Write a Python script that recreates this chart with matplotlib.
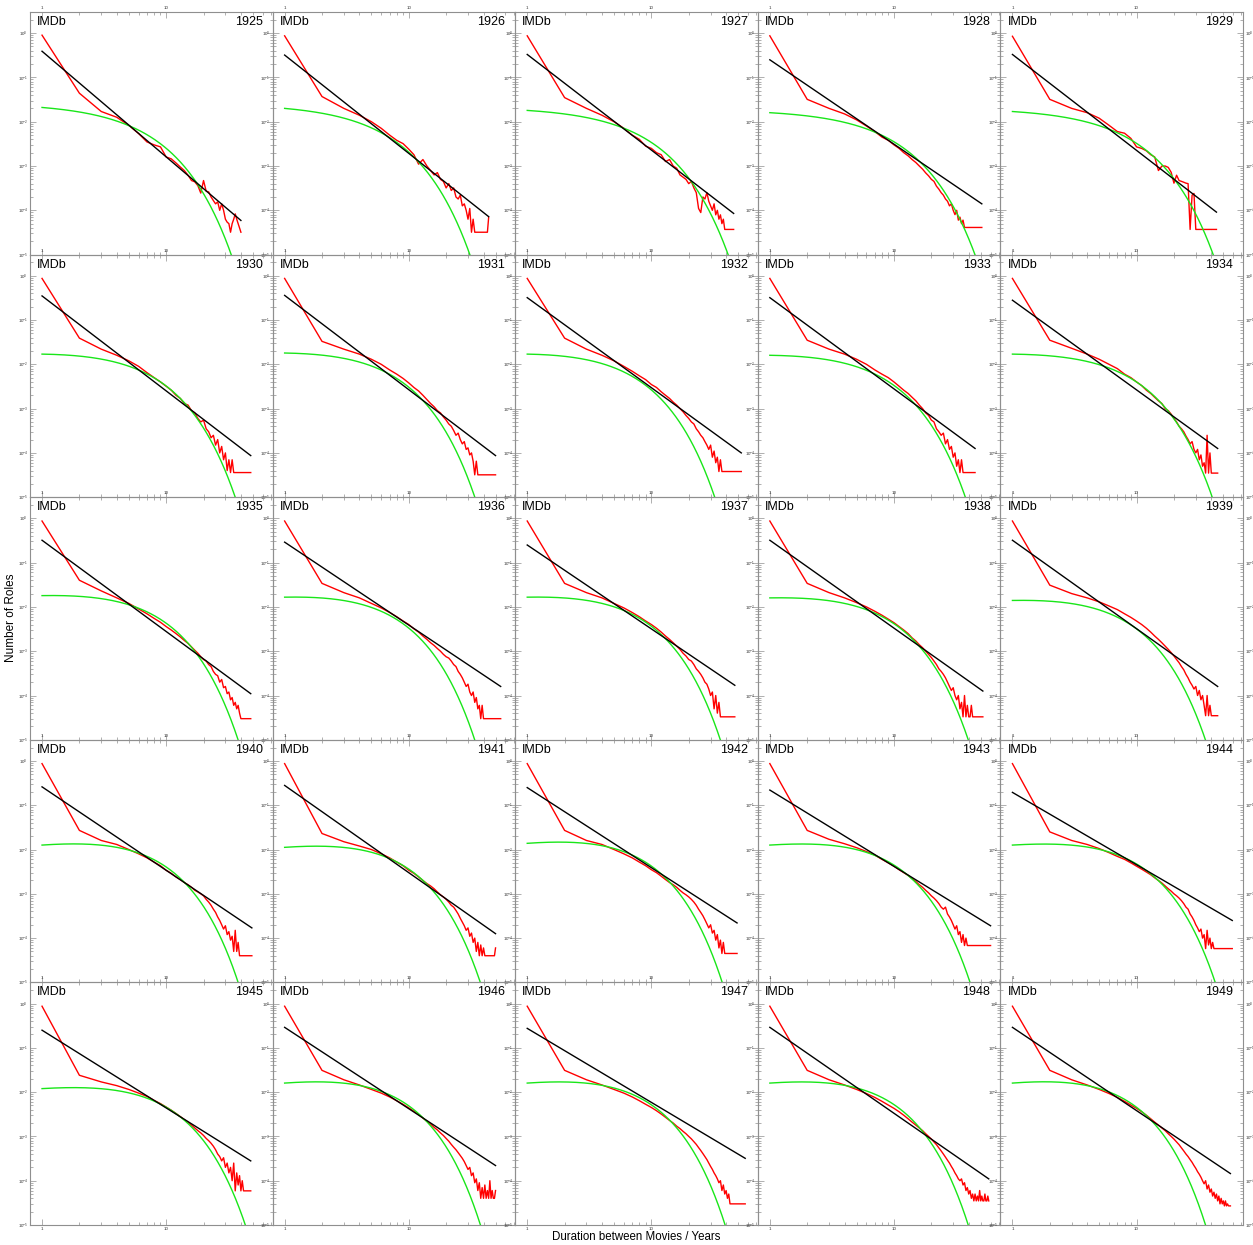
import numpy as np
import matplotlib
matplotlib.use("Agg")
import matplotlib.pyplot as plt
from matplotlib.ticker import FixedLocator, FixedFormatter, NullFormatter

plt.rcParams['font.family'] = ['Liberation Sans', 'DejaVu Sans']
plt.rcParams['mathtext.fontset'] = 'custom'
plt.rcParams['mathtext.rm'] = 'Liberation Sans'

years = list(range(1925, 1950))

# ---- red: measured fraction at durations 1, 2, 3, ... years ----
red_1925 = [0.9, 4.4e-2, 1.7e-2, 1.26e-2, 8.3e-3, 5.4e-3, 3.5e-3, 3.0e-3, 2.7e-3, 1.6e-3, 1.45e-3, 1.17e-3, 9.5e-4, 7.9e-4, 6.2e-4, 4.7e-4, 4.4e-4, 3.6e-4, 2.45e-4, 4.7e-4, 2.7e-4, 2.6e-4, 2.0e-4, 1.66e-4, 1.4e-4, 1.55e-4, 1.0e-4, 1.4e-4, 1.0e-4, 6.3e-5, 5.4e-5, 5.0e-5, 3.2e-5, 5.0e-5, 6.3e-5, 8.3e-5, 6.3e-5, 5.0e-5, 4.0e-5, 3.2e-5]
red_1926 = [0.87, 3.7e-2, 2.0e-2, 1.4e-2, 1.0e-2, 7.1e-3, 5.0e-3, 3.8e-3, 3.2e-3, 2.4e-3, 1.8e-3, 1.1e-3, 1.4e-3, 1.0e-3, 7.9e-4, 6.3e-4, 7.1e-4, 5.0e-4, 4.5e-4, 3.2e-4, 4.0e-4, 2.8e-4, 3.2e-4, 2.0e-4, 1.8e-4, 2.2e-4, 1.26e-4, 1.4e-4, 1.0e-4, 6.3e-5, 1.1e-4, 3.2e-5, 6.3e-5, 3.2e-5, 3.2e-5, 3.2e-5, 3.2e-5, 3.2e-5, 3.2e-5, 3.2e-5, 3.2e-5, 3.2e-5, 3.2e-5, 6.9e-5]
red_1927 = [0.87, 3.5e-2, 2.0e-2, 1.4e-2, 1.0e-2, 7.1e-3, 5.0e-3, 4.0e-3, 2.8e-3, 2.5e-3, 2.0e-3, 1.8e-3, 1.26e-3, 1.4e-3, 1.0e-3, 8.9e-4, 6.3e-4, 5.6e-4, 5.0e-4, 4.0e-4, 4.5e-4, 3.2e-4, 2.5e-4, 1.1e-4, 8.9e-5, 2.0e-4, 1.8e-4, 2.5e-4, 1.6e-4, 1.26e-4, 1.0e-4, 1.4e-4, 7.9e-5, 1.0e-4, 6.3e-5, 7.9e-5, 5.0e-5, 6.3e-5, 3.7e-5, 3.7e-5, 3.7e-5, 3.7e-5, 3.7e-5, 3.7e-5, 3.7e-5, 3.7e-5]
red_1928 = [0.87, 3.2e-2, 2.0e-2, 1.5e-2, 1.1e-2, 8.0e-3, 6.0e-3, 4.5e-3, 3.8e-3, 3.0e-3, 2.5e-3, 2.0e-3, 1.7e-3, 1.4e-3, 1.2e-3, 1.0e-3, 8.5e-4, 7.0e-4, 6.0e-4, 5.0e-4, 4.5e-4, 3.5e-4, 3.0e-4, 2.5e-4, 2.2e-4, 1.8e-4, 1.6e-4, 1.26e-4, 1.4e-4, 1.0e-4, 8.0e-5, 1.0e-4, 6.0e-5, 7.0e-5, 5.0e-5, 6.0e-5, 4.1e-5, 4.1e-5, 4.1e-5, 4.1e-5, 4.1e-5, 4.1e-5, 4.1e-5, 4.1e-5, 4.1e-5, 4.1e-5, 4.1e-5, 4.1e-5, 4.1e-5, 4.1e-5, 4.1e-5]
red_1929 = [0.85, 3.2e-2, 2.0e-2, 1.6e-2, 1.2e-2, 8.3e-3, 6.0e-3, 5.5e-3, 4.2e-3, 2.7e-3, 2.5e-3, 2.2e-3, 1.8e-3, 1.6e-3, 7.9e-4, 1.0e-3, 1.0e-3, 9.3e-4, 7.2e-4, 4.1e-4, 6.2e-4, 4.7e-4, 4.5e-4, 4.3e-4, 4.1e-4, 4.0e-4, 3.7e-5, 2.2e-4, 2.4e-4, 3.7e-5, 3.7e-5, 3.7e-5, 3.7e-5, 3.7e-5, 3.7e-5, 3.7e-5, 3.7e-5, 3.7e-5, 3.7e-5, 3.7e-5, 3.7e-5, 3.7e-5, 3.7e-5, 3.7e-5]
red_1930 = [0.87, 3.9e-2, 2.2e-2, 1.6e-2, 1.2e-2, 9.0e-3, 6.5e-3, 5.0e-3, 4.0e-3, 3.2e-3, 2.6e-3, 2.0e-3, 1.7e-3, 1.3e-3, 1.2e-3, 9.0e-4, 8.0e-4, 6.0e-4, 5.0e-4, 5.5e-4, 3.5e-4, 3.0e-4, 2.2e-4, 2.5e-4, 1.5e-4, 2.0e-4, 1.0e-4, 1.4e-4, 7.0e-5, 1.0e-4, 4.0e-5, 7.0e-5, 3.6e-5, 7.0e-5, 3.6e-5, 3.6e-5, 3.6e-5, 3.6e-5, 3.6e-5, 3.6e-5, 3.6e-5, 3.6e-5, 3.6e-5, 3.6e-5, 3.6e-5, 3.6e-5, 3.6e-5, 3.6e-5]
red_1931 = [0.87, 3.3e-2, 2.2e-2, 1.7e-2, 1.3e-2, 1.0e-2, 7.5e-3, 6.0e-3, 4.8e-3, 3.8e-3, 3.0e-3, 2.5e-3, 2.0e-3, 1.6e-3, 1.3e-3, 1.1e-3, 9.0e-4, 8.0e-4, 6.5e-4, 5.5e-4, 4.5e-4, 4.0e-4, 3.2e-4, 2.5e-4, 2.8e-4, 2.0e-4, 1.6e-4, 1.8e-4, 1.2e-4, 1.3e-4, 9.0e-5, 1.0e-4, 6.5e-5, 3.2e-5, 6.5e-5, 3.2e-5, 3.2e-5, 3.2e-5, 3.2e-5, 3.2e-5, 3.2e-5, 3.2e-5, 3.2e-5, 3.2e-5, 3.2e-5, 3.2e-5, 3.2e-5, 3.2e-5, 3.2e-5, 3.2e-5]
red_1932 = [0.87, 3.9e-2, 2.2e-2, 1.6e-2, 1.2e-2, 9.0e-3, 7.0e-3, 5.5e-3, 4.5e-3, 3.5e-3, 3.0e-3, 2.4e-3, 2.0e-3, 1.7e-3, 1.4e-3, 1.2e-3, 1.0e-3, 8.5e-4, 7.0e-4, 6.0e-4, 5.0e-4, 4.5e-4, 3.5e-4, 3.0e-4, 2.5e-4, 2.2e-4, 1.8e-4, 1.5e-4, 1.2e-4, 1.5e-4, 8.0e-5, 1.1e-4, 6.0e-5, 8.0e-5, 3.8e-5, 7.0e-5, 3.8e-5, 3.8e-5, 3.8e-5, 3.8e-5, 3.8e-5, 3.8e-5, 3.8e-5, 3.8e-5, 3.8e-5, 3.8e-5, 3.8e-5, 3.8e-5, 3.8e-5, 3.8e-5, 3.8e-5, 3.8e-5, 3.8e-5]
red_1933 = [0.87, 3.5e-2, 2.2e-2, 1.7e-2, 1.3e-2, 1.0e-2, 7.5e-3, 6.0e-3, 5.0e-3, 4.0e-3, 3.2e-3, 2.6e-3, 2.2e-3, 1.8e-3, 1.5e-3, 1.2e-3, 1.0e-3, 8.0e-4, 7.0e-4, 5.5e-4, 5.0e-4, 3.5e-4, 3.0e-4, 2.5e-4, 2.8e-4, 1.6e-4, 2.0e-4, 1.2e-4, 1.4e-4, 8.0e-5, 1.0e-4, 5.0e-5, 7.0e-5, 3.6e-5, 7.0e-5, 3.6e-5, 3.6e-5, 3.6e-5, 3.6e-5, 3.6e-5, 3.6e-5, 3.6e-5, 3.6e-5, 3.6e-5, 3.6e-5]
red_1934 = [0.87, 3.5e-2, 2.3e-2, 1.7e-2, 1.3e-2, 1.0e-2, 8.0e-3, 6.0e-3, 5.0e-3, 4.0e-3, 3.3e-3, 2.6e-3, 2.2e-3, 1.8e-3, 1.5e-3, 1.3e-3, 1.0e-3, 9.0e-4, 7.5e-4, 6.0e-4, 5.0e-4, 4.0e-4, 3.5e-4, 3.0e-4, 2.4e-4, 2.0e-4, 1.6e-4, 1.8e-4, 1.2e-4, 1.0e-4, 1.2e-4, 7.0e-5, 9.0e-5, 5.0e-5, 6.0e-5, 3.5e-5, 2.5e-4, 3.5e-5, 1.0e-4, 3.5e-5, 3.5e-5, 3.5e-5, 3.5e-5, 3.5e-5, 3.5e-5]
red_1935 = [0.87, 4.0e-2, 2.3e-2, 1.6e-2, 1.2e-2, 9.0e-3, 7.0e-3, 5.5e-3, 4.5e-3, 3.6e-3, 3.0e-3, 2.5e-3, 2.1e-3, 1.75e-3, 1.5e-3, 1.25e-3, 1.05e-3, 9.0e-4, 7.5e-4, 6.5e-4, 6.0e-4, 5.0e-4, 4.5e-4, 3.5e-4, 3.0e-4, 2.8e-4, 2.0e-4, 2.3e-4, 1.5e-4, 1.6e-4, 1.1e-4, 1.2e-4, 8.0e-5, 9.0e-5, 6.0e-5, 7.0e-5, 5.0e-5, 6.0e-5, 4.0e-5, 3.0e-5, 3.0e-5, 3.0e-5, 3.0e-5, 3.0e-5, 3.0e-5, 3.0e-5, 3.0e-5, 3.0e-5]
red_1936 = [0.87, 3.4e-2, 2.1e-2, 1.6e-2, 1.2e-2, 9.5e-3, 7.5e-3, 6.0e-3, 4.8e-3, 4.0e-3, 3.2e-3, 2.7e-3, 2.2e-3, 1.85e-3, 1.55e-3, 1.35e-3, 1.15e-3, 1.0e-3, 8.5e-4, 7.5e-4, 7.0e-4, 6.0e-4, 5.0e-4, 4.5e-4, 3.5e-4, 3.0e-4, 2.5e-4, 2.0e-4, 1.6e-4, 1.8e-4, 1.2e-4, 1.0e-4, 1.2e-4, 7.0e-5, 9.0e-5, 5.0e-5, 6.0e-5, 3.0e-5, 6.0e-5, 3.0e-5, 3.0e-5, 3.0e-5, 3.0e-5, 3.0e-5, 3.0e-5, 3.0e-5, 3.0e-5, 3.0e-5, 3.0e-5, 3.0e-5, 3.0e-5, 3.0e-5, 3.0e-5, 3.0e-5, 3.0e-5]
red_1937 = [0.87, 3.4e-2, 2.1e-2, 1.6e-2, 1.2e-2, 9.5e-3, 7.5e-3, 6.0e-3, 4.8e-3, 4.0e-3, 3.3e-3, 2.7e-3, 2.2e-3, 1.85e-3, 1.55e-3, 1.3e-3, 1.1e-3, 9.0e-4, 7.8e-4, 6.5e-4, 6.0e-4, 5.0e-4, 4.0e-4, 3.5e-4, 3.0e-4, 2.5e-4, 2.0e-4, 1.8e-4, 1.4e-4, 1.0e-4, 1.2e-4, 5.0e-5, 1.0e-4, 4.0e-5, 7.0e-5, 3.3e-5, 3.3e-5, 3.3e-5, 3.3e-5, 3.3e-5, 3.3e-5, 3.3e-5, 3.3e-5, 3.3e-5, 3.3e-5, 3.3e-5, 3.3e-5]
red_1938 = [0.87, 3.4e-2, 2.1e-2, 1.6e-2, 1.25e-2, 1.0e-2, 8.0e-3, 6.5e-3, 5.3e-3, 4.4e-3, 3.6e-3, 3.0e-3, 2.5e-3, 2.0e-3, 1.7e-3, 1.4e-3, 1.2e-3, 1.0e-3, 8.5e-4, 7.2e-4, 6.0e-4, 5.0e-4, 4.0e-4, 3.5e-4, 3.0e-4, 2.5e-4, 2.0e-4, 1.6e-4, 1.3e-4, 1.5e-4, 1.0e-4, 8.0e-5, 1.0e-4, 5.0e-5, 7.0e-5, 3.3e-5, 1.0e-4, 3.3e-5, 6.0e-5, 3.3e-5, 3.3e-5, 6.0e-5, 3.3e-5, 3.3e-5, 3.3e-5, 3.3e-5, 3.3e-5, 3.3e-5, 3.3e-5, 3.3e-5, 3.3e-5, 3.3e-5]
red_1939 = [0.87, 3.1e-2, 2.0e-2, 1.6e-2, 1.3e-2, 1.05e-2, 8.7e-3, 7.0e-3, 5.8e-3, 4.8e-3, 4.0e-3, 3.3e-3, 2.7e-3, 2.2e-3, 1.85e-3, 1.55e-3, 1.3e-3, 1.1e-3, 9.3e-4, 7.8e-4, 6.5e-4, 5.5e-4, 4.5e-4, 3.8e-4, 3.0e-4, 2.5e-4, 2.0e-4, 1.7e-4, 1.4e-4, 1.6e-4, 1.0e-4, 1.3e-4, 8.0e-5, 1.0e-4, 6.0e-5, 3.5e-5, 1.0e-4, 3.5e-5, 6.0e-5, 3.5e-5, 3.5e-5, 3.5e-5, 3.5e-5, 3.5e-5, 3.5e-5]
red_1940 = [0.87, 2.7e-2, 1.6e-2, 1.3e-2, 1.0e-2, 8.0e-3, 6.5e-3, 5.2e-3, 4.3e-3, 3.4e-3, 2.9e-3, 2.4e-3, 2.1e-3, 1.8e-3, 1.6e-3, 1.4e-3, 1.2e-3, 1.1e-3, 1.0e-3, 9.0e-4, 7.5e-4, 6.5e-4, 5.5e-4, 4.5e-4, 3.8e-4, 3.0e-4, 2.5e-4, 2.0e-4, 1.6e-4, 1.9e-4, 1.2e-4, 1.4e-4, 9.0e-5, 1.1e-4, 5.0e-5, 1.5e-4, 5.0e-5, 8.0e-5, 4.0e-5, 4.0e-5, 4.0e-5, 4.0e-5, 4.0e-5, 4.0e-5, 4.0e-5, 4.0e-5, 4.0e-5, 4.0e-5, 4.0e-5]
red_1941 = [0.87, 2.3e-2, 1.5e-2, 1.2e-2, 1.0e-2, 8.0e-3, 6.5e-3, 5.2e-3, 4.3e-3, 3.4e-3, 2.9e-3, 2.4e-3, 2.0e-3, 1.7e-3, 1.5e-3, 1.3e-3, 1.1e-3, 9.5e-4, 8.5e-4, 7.5e-4, 6.5e-4, 5.5e-4, 5.0e-4, 4.2e-4, 3.5e-4, 2.8e-4, 2.3e-4, 1.9e-4, 1.5e-4, 1.7e-4, 1.1e-4, 1.3e-4, 8.0e-5, 1.0e-4, 5.0e-5, 8.0e-5, 4.0e-5, 7.0e-5, 4.0e-5, 6.0e-5, 4.0e-5, 4.0e-5, 4.0e-5, 4.0e-5, 4.0e-5, 4.0e-5, 4.0e-5, 4.0e-5, 4.0e-5, 6.0e-5]
red_1942 = [0.87, 2.7e-2, 1.6e-2, 1.3e-2, 1.0e-2, 8.0e-3, 6.5e-3, 5.2e-3, 4.3e-3, 3.5e-3, 3.0e-3, 2.5e-3, 2.1e-3, 1.8e-3, 1.6e-3, 1.4e-3, 1.2e-3, 1.05e-3, 9.5e-4, 8.5e-4, 7.5e-4, 6.5e-4, 5.5e-4, 4.5e-4, 3.8e-4, 3.2e-4, 2.6e-4, 2.1e-4, 1.7e-4, 2.0e-4, 1.3e-4, 1.5e-4, 9.0e-5, 1.2e-4, 6.0e-5, 9.0e-5, 4.5e-5, 8.0e-5, 4.5e-5, 4.5e-5, 4.5e-5, 4.5e-5, 4.5e-5, 4.5e-5, 4.5e-5, 4.5e-5, 4.5e-5, 4.5e-5, 4.5e-5]
red_1943 = [0.87, 2.7e-2, 1.7e-2, 1.35e-2, 1.1e-2, 9.0e-3, 7.5e-3, 6.0e-3, 5.0e-3, 4.2e-3, 3.5e-3, 3.0e-3, 2.6e-3, 2.2e-3, 1.9e-3, 1.6e-3, 1.4e-3, 1.2e-3, 1.05e-3, 9.0e-4, 8.0e-4, 7.0e-4, 6.0e-4, 5.0e-4, 4.5e-4, 5.0e-4, 3.5e-4, 3.0e-4, 2.5e-4, 2.0e-4, 1.6e-4, 1.9e-4, 1.2e-4, 1.4e-4, 8.0e-5, 1.2e-4, 6.8e-5, 1.0e-4, 6.8e-5, 6.8e-5, 6.8e-5, 6.8e-5, 6.8e-5, 6.8e-5, 6.8e-5, 6.8e-5, 6.8e-5, 6.8e-5, 6.8e-5, 6.8e-5, 6.8e-5, 6.8e-5, 6.8e-5, 6.8e-5, 6.8e-5, 6.8e-5, 6.8e-5, 6.8e-5, 6.8e-5, 6.8e-5]
red_1944 = [0.87, 2.5e-2, 1.6e-2, 1.3e-2, 1.05e-2, 8.5e-3, 7.0e-3, 6.0e-3, 5.0e-3, 4.2e-3, 3.6e-3, 3.1e-3, 2.7e-3, 2.3e-3, 2.0e-3, 1.75e-3, 1.5e-3, 1.3e-3, 1.15e-3, 1.0e-3, 9.0e-4, 8.0e-4, 7.0e-4, 6.0e-4, 5.0e-4, 4.5e-4, 3.5e-4, 3.0e-4, 2.5e-4, 2.0e-4, 1.7e-4, 1.4e-4, 1.6e-4, 1.0e-4, 1.2e-4, 5.8e-5, 1.5e-4, 7.0e-5, 1.0e-4, 5.8e-5, 8.0e-5, 5.8e-5, 5.8e-5, 5.8e-5, 5.8e-5, 5.8e-5, 5.8e-5, 5.8e-5, 5.8e-5, 5.8e-5, 5.8e-5, 5.8e-5, 5.8e-5, 5.8e-5, 5.8e-5, 5.8e-5, 5.8e-5, 5.8e-5, 5.8e-5]
red_1945 = [0.87, 2.4e-2, 1.7e-2, 1.4e-2, 1.15e-2, 9.5e-3, 8.0e-3, 6.5e-3, 5.5e-3, 4.6e-3, 3.9e-3, 3.3e-3, 2.8e-3, 2.4e-3, 2.1e-3, 1.8e-3, 1.55e-3, 1.35e-3, 1.2e-3, 1.05e-3, 9.0e-4, 8.0e-4, 7.0e-4, 6.0e-4, 5.0e-4, 4.0e-4, 3.5e-4, 2.8e-4, 3.3e-4, 2.0e-4, 2.5e-4, 1.5e-4, 2.0e-4, 1.0e-4, 2.5e-4, 5.9e-5, 1.5e-4, 8.0e-5, 1.3e-4, 5.9e-5, 1.0e-4, 5.9e-5, 5.9e-5, 5.9e-5, 5.9e-5, 5.9e-5, 5.9e-5, 5.9e-5]
red_1946 = [0.87, 3.1e-2, 1.9e-2, 1.45e-2, 1.15e-2, 9.5e-3, 7.8e-3, 6.4e-3, 5.3e-3, 4.4e-3, 3.7e-3, 3.1e-3, 2.6e-3, 2.2e-3, 1.9e-3, 1.6e-3, 1.4e-3, 1.2e-3, 1.05e-3, 9.0e-4, 7.8e-4, 6.6e-4, 5.7e-4, 5.0e-4, 4.3e-4, 3.7e-4, 3.2e-4, 2.7e-4, 2.2e-4, 1.8e-4, 2.0e-4, 1.3e-4, 1.5e-4, 9.0e-5, 1.1e-4, 6.0e-5, 9.0e-5, 4.0e-5, 7.0e-5, 4.0e-5, 8.0e-5, 4.0e-5, 6.0e-5, 4.0e-5, 1.0e-4, 4.0e-5, 6.0e-5, 4.0e-5, 4.0e-5, 6.0e-5]
red_1947 = [0.87, 3.1e-2, 1.9e-2, 1.45e-2, 1.15e-2, 9.5e-3, 7.8e-3, 6.4e-3, 5.3e-3, 4.5e-3, 3.8e-3, 3.2e-3, 2.7e-3, 2.3e-3, 2.0e-3, 1.7e-3, 1.5e-3, 1.3e-3, 1.15e-3, 1.0e-3, 8.8e-4, 7.6e-4, 6.6e-4, 5.6e-4, 4.8e-4, 4.1e-4, 3.5e-4, 3.0e-4, 2.5e-4, 2.1e-4, 1.8e-4, 1.5e-4, 1.3e-4, 1.1e-4, 9.0e-5, 1.0e-4, 6.0e-5, 8.0e-5, 5.0e-5, 6.0e-5, 4.0e-5, 5.0e-5, 3.0e-5, 3.0e-5, 3.0e-5, 3.0e-5, 3.0e-5, 3.0e-5, 3.0e-5, 3.0e-5, 3.0e-5, 3.0e-5, 3.0e-5, 3.0e-5, 3.0e-5, 3.0e-5, 3.0e-5]
red_1948 = [0.87, 3.1e-2, 1.9e-2, 1.45e-2, 1.15e-2, 9.3e-3, 7.6e-3, 6.2e-3, 5.1e-3, 4.3e-3, 3.6e-3, 3.0e-3, 2.5e-3, 2.1e-3, 1.8e-3, 1.55e-3, 1.35e-3, 1.15e-3, 1.0e-3, 8.7e-4, 7.5e-4, 6.5e-4, 5.5e-4, 4.7e-4, 4.0e-4, 3.4e-4, 2.9e-4, 2.5e-4, 2.1e-4, 1.8e-4, 1.5e-4, 1.3e-4, 1.1e-4, 1.0e-4, 1.1e-4, 8.0e-5, 9.0e-5, 6.0e-5, 7.0e-5, 5.0e-5, 6.0e-5, 4.0e-5, 5.0e-5, 3.5e-5, 5.0e-5, 3.5e-5, 4.5e-5, 3.5e-5, 6.0e-5, 3.5e-5, 4.5e-5, 3.5e-5, 3.5e-5, 5.0e-5, 3.5e-5, 3.5e-5, 4.5e-5, 3.5e-5]
red_1949 = [0.87, 3.1e-2, 1.9e-2, 1.45e-2, 1.15e-2, 9.3e-3, 7.6e-3, 6.2e-3, 5.1e-3, 4.3e-3, 3.6e-3, 3.0e-3, 2.5e-3, 2.1e-3, 1.8e-3, 1.55e-3, 1.35e-3, 1.15e-3, 1.0e-3, 8.7e-4, 7.5e-4, 6.5e-4, 5.5e-4, 4.7e-4, 4.0e-4, 3.5e-4, 3.0e-4, 2.6e-4, 2.2e-4, 1.9e-4, 1.6e-4, 1.4e-4, 1.2e-4, 1.0e-4, 8.5e-5, 1.0e-4, 6.5e-5, 8.0e-5, 5.5e-5, 6.5e-5, 4.5e-5, 5.5e-5, 4.0e-5, 5.0e-5, 3.5e-5, 4.5e-5, 3.0e-5, 4.0e-5, 3.0e-5, 3.5e-5, 2.7e-5, 3.5e-5, 2.7e-5, 3.0e-5, 2.7e-5, 2.7e-5, 2.7e-5]

red_series = [red_1925, red_1926, red_1927, red_1928, red_1929,
              red_1930, red_1931, red_1932, red_1933, red_1934,
              red_1935, red_1936, red_1937, red_1938, red_1939,
              red_1940, red_1941, red_1942, red_1943, red_1944,
              red_1945, red_1946, red_1947, red_1948, red_1949]

# ---- black: power-law fit, value at duration 1 and at the last duration ----
black_first = [0.39, 0.32, 0.33, 0.25, 0.33,
               0.35, 0.36, 0.32, 0.32, 0.28,
               0.32, 0.29, 0.25, 0.32, 0.32,
               0.26, 0.28, 0.25, 0.22, 0.195,
               0.25, 0.29, 0.275, 0.29, 0.29]
black_last = [5.9e-5, 7.2e-5, 8.5e-5, 1.4e-4, 9.1e-5,
              8.7e-5, 8.7e-5, 1.0e-4, 1.26e-4, 1.26e-4,
              1.1e-4, 1.6e-4, 1.7e-4, 1.26e-4, 1.6e-4,
              1.7e-4, 1.26e-4, 2.2e-4, 1.9e-4, 2.5e-4,
              2.8e-4, 2.2e-4, 3.2e-4, 1.1e-4, 1.45e-4]

# ---- green: fitted curve a * x**p * exp(-b (x-1)) ----
green_amp = [0.021, 0.020, 0.018, 0.016, 0.017,
             0.017, 0.018, 0.017, 0.016, 0.017,
             0.018, 0.0166, 0.0166, 0.016, 0.014,
             0.0126, 0.0112, 0.0138, 0.0126, 0.0126,
             0.012, 0.016, 0.016, 0.016, 0.016]
green_rate = [0.236, 0.253, 0.185, 0.168, 0.184,
              0.2315, 0.248, 0.260, 0.219, 0.2025,
              0.230, 0.258, 0.242, 0.2155, 0.237,
              0.2345, 0.2328, 0.2434, 0.2143, 0.2026,
              0.199, 0.244, 0.233, 0.2304, 0.259]
green_pow = [0.0, 0.0, 0.0, 0.0, 0.0,
             0.185, 0.198, 0.208, 0.175, 0.162,
             0.276, 0.31, 0.29, 0.259, 0.284,
             0.422, 0.419, 0.438, 0.386, 0.365,
             0.358, 0.44, 0.42, 0.415, 0.466]

x_ticks_major = [1, 10]
x_ticks_major_labels = ['1', '10']
y_ticks_major = [1e0, 1e-1, 1e-2, 1e-3, 1e-4, 1e-5]
y_ticks_major_labels = ['$10^{0}$', '$10^{-1}$', '$10^{-2}$', '$10^{-3}$', '$10^{-4}$', '$10^{-5}$']

W, H = 1253, 1245
fig = plt.figure(figsize=(W / 100, H / 100), dpi=100)

left0, top0 = 30.0, 12.0
pw = (1243.0 - 30.0) / 5
ph = (1225.0 - 12.0) / 5
frame_col = '#8f8f8f'

x_minor = [k for k in range(2, 10)] + [10 * k for k in range(2, 8)]
y_minor = [k * 10.0 ** e for e in range(-5, 1) for k in range(2, 10)]

for i, yr in enumerate(years):
    r, c = divmod(i, 5)
    lpx = left0 + c * pw
    tpx = top0 + r * ph
    ax = fig.add_axes([lpx / W, 1 - (tpx + ph) / H, pw / W, ph / H])
    ax.set_xscale('log')
    ax.set_yscale('log')
    ax.set_facecolor('none')

    red = np.array(red_series[i])
    xs = np.arange(1, len(red) + 1)
    ax.plot(xs, red, color='#ff0000', lw=1.0, zorder=2)

    xg = np.geomspace(1, 80, 400)
    yg = green_amp[i] * xg ** green_pow[i] * np.exp(-green_rate[i] * (xg - 1))
    ax.plot(xg, yg, color='#19e619', lw=1.0, zorder=3)

    ax.plot([1, len(red)], [black_first[i], black_last[i]], color='black', lw=1.0, zorder=4)

    ax.set_xlim(0.8, 72)
    ax.set_ylim(1e-5, 3)

    ax.xaxis.set_major_locator(FixedLocator(x_ticks_major))
    ax.xaxis.set_major_formatter(FixedFormatter(x_ticks_major_labels))
    ax.xaxis.set_minor_locator(FixedLocator(x_minor))
    ax.xaxis.set_minor_formatter(NullFormatter())
    ax.yaxis.set_major_locator(FixedLocator(y_ticks_major))
    ax.yaxis.set_major_formatter(FixedFormatter(y_ticks_major_labels))
    ax.yaxis.set_minor_locator(FixedLocator(y_minor))
    ax.yaxis.set_minor_formatter(NullFormatter())

    ax.tick_params(axis='both', which='both', direction='in', top=True, bottom=True,
                   left=True, right=True, color=frame_col, width=0.5, labelsize=3.2,
                   labelcolor='#333333', pad=1.5)
    ax.tick_params(axis='both', which='major', length=4)
    ax.tick_params(axis='both', which='minor', length=2)
    ax.tick_params(axis='x', labeltop=True, labelbottom=(r == 4))
    ax.tick_params(axis='y', labelleft=True, labelright=(c == 4))
    for sp in ax.spines.values():
        sp.set_color(frame_col)
        sp.set_linewidth(0.8)

    ax.text(7 / pw, 1 - 10 / ph, 'IMDb', transform=ax.transAxes, ha='left', va='center',
            fontsize=9, color='black')
    ax.text(1 - 10 / pw, 1 - 10 / ph, str(yr), transform=ax.transAxes, ha='right', va='center',
            fontsize=9, color='black')

fig.text(11 / W, 1 - 618 / H, 'Number of Roles', rotation=90, ha='center', va='center', fontsize=8.5)
fig.text(636 / W, 1 - 1237 / H, 'Duration between Movies / Years', ha='center', va='center', fontsize=8.3)

fig.savefig('out.png', dpi=100)
